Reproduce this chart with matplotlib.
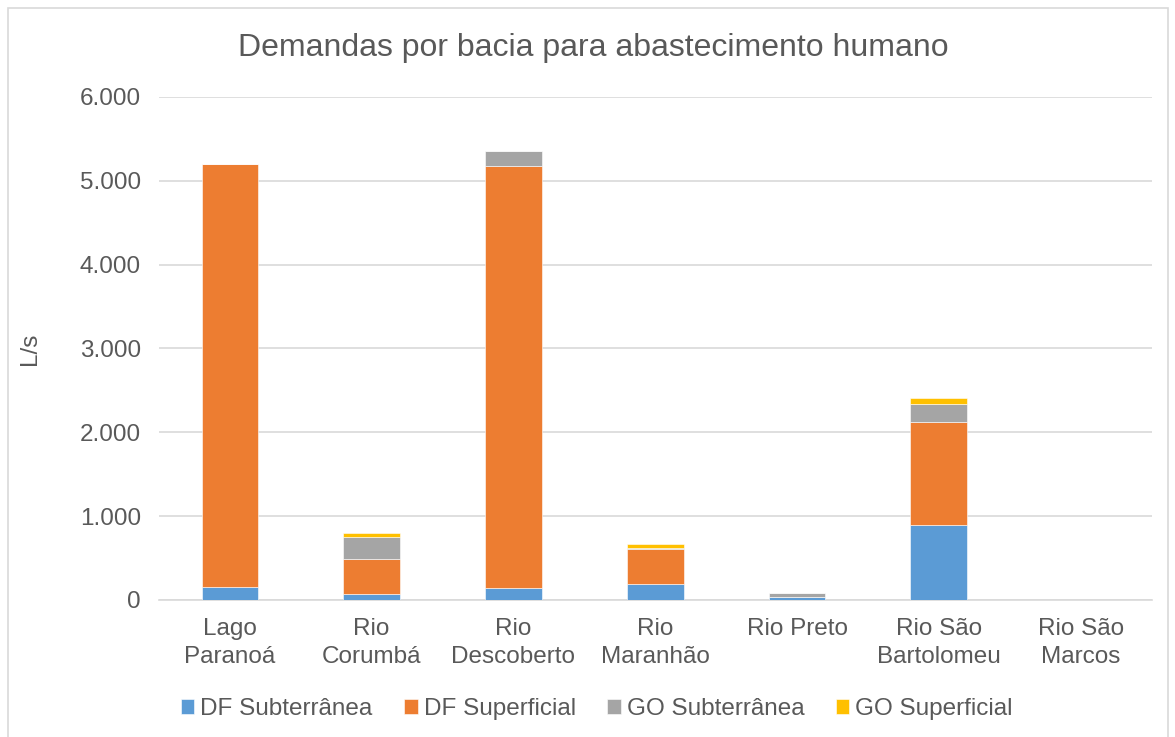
import numpy as np
import matplotlib
matplotlib.use("Agg")
import matplotlib.pyplot as plt
from matplotlib.patches import Rectangle

plt.rcParams['font.family'] = ['Liberation Sans', 'DejaVu Sans']

# bacias
categories = ["Lago\nParanoá", "Rio\nCorumbá", "Rio\nDescoberto", "Rio\nMaranhão",
              "Rio Preto", "Rio São\nBartolomeu", "Rio São\nMarcos"]
df_sub = [150, 67, 143, 191, 36, 896, 0]
df_sup = [5053, 419, 5033, 414, 0, 1223, 0]
go_sub = [0, 263, 178, 12, 43, 223, 0]
go_sup = [0, 52, 0, 48, 0, 71, 0]

series = [("DF Subterrânea", df_sub, "#5b9bd5"),
          ("DF Superficial", df_sup, "#ed7d31"),
          ("GO Subterrânea", go_sub, "#a5a5a5"),
          ("GO Superficial", go_sup, "#ffc000")]

txt = "#595959"
fs = 17.5

fig = plt.figure(figsize=(11.75, 7.37), dpi=100)
ax = fig.add_axes([0.1353, 0.1859, 0.8447, 0.6825])

# chart border
fig.patches.append(Rectangle((8/1175, -0.01), 1160/1175, 1 - 8/737 + 0.01,
                             transform=fig.transFigure, fill=False,
                             edgecolor="#d9d9d9", linewidth=1.2))

x = np.arange(len(categories))
bottom = np.zeros(len(categories))
for name, vals, col in series:
    vals = np.array(vals, dtype=float)
    ax.bar(x, vals, width=0.4, bottom=bottom, color=col, label=name,
           edgecolor="white", linewidth=0.4, zorder=3)
    bottom += vals

ax.set_xlim(-0.5, len(categories) - 0.5)
ax.set_ylim(0, 6000)
ax.set_yticks(np.arange(0, 6001, 1000))
ax.set_yticklabels(["0", "1.000", "2.000", "3.000", "4.000", "5.000", "6.000"])
ax.yaxis.grid(True, color="#d9d9d9", linewidth=1.2, zorder=0)
ax.set_xticks(x)
ax.set_xticklabels(categories, linespacing=1.35)
ax.tick_params(axis="both", length=0, colors=txt, labelsize=fs)
ax.tick_params(axis="x", pad=13)
ax.tick_params(axis="y", pad=13)
for s in ["top", "right", "left"]:
    ax.spines[s].set_visible(False)
ax.spines["bottom"].set_color("#d9d9d9")
ax.spines["bottom"].set_linewidth(1.2)

ax.set_ylabel("L/s", fontsize=fs, color=txt, labelpad=28)
fig.text(0.505, 0.935, "Demandas por bacia para abastecimento humano",
         ha="center", va="center", fontsize=23, color=txt)

leg = fig.legend(loc="center", bbox_to_anchor=(0.508, 0.038), ncol=4, frameon=False,
                 fontsize=fs, handlelength=0.55, handleheight=0.55,
                 handletextpad=0.25, columnspacing=1.3)
for t in leg.get_texts():
    t.set_color(txt)

fig.savefig("out.png", dpi=100)
